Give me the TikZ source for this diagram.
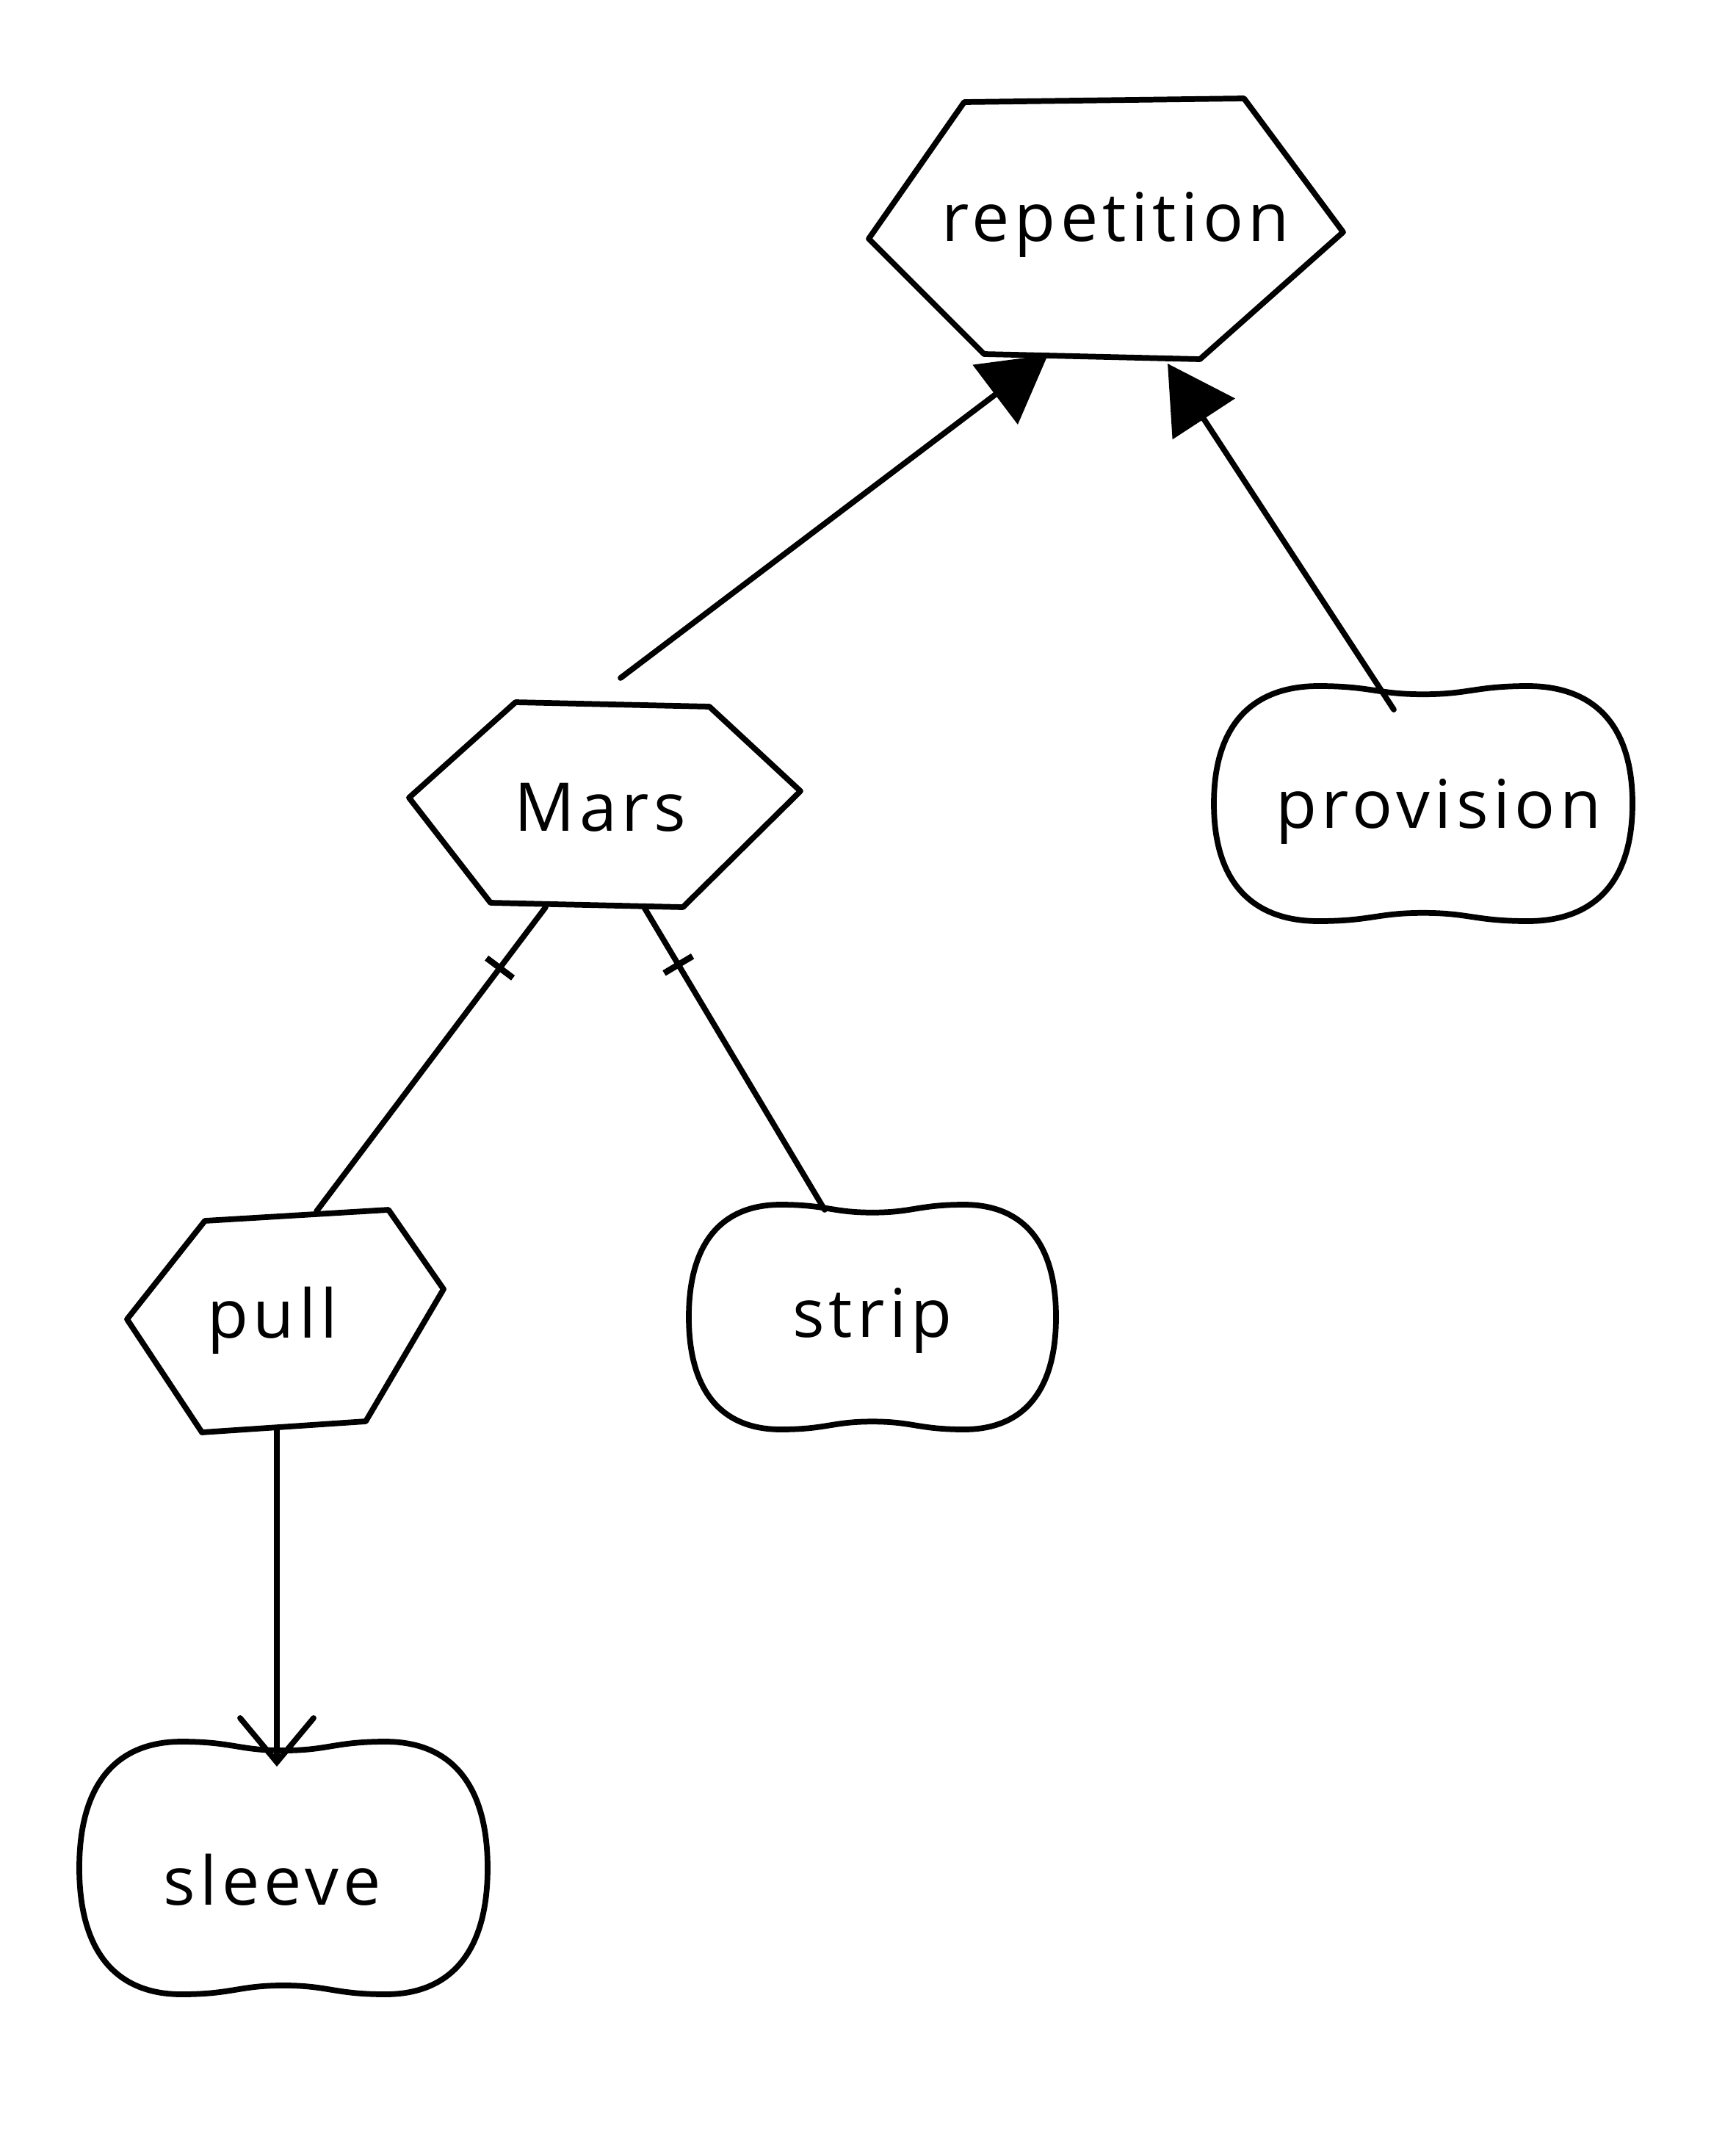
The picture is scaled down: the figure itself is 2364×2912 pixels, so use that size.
\documentclass[tikz,border=0pt]{standalone}
\usepackage{fontspec}
\setmainfont{Open Sans}[LetterSpace=7]
\usetikzlibrary{arrows.meta}
\newcommand\myblob[4]{%
  \begin{scope}[shift={(#1,#2)}, xscale=#3, yscale=#4]
    \draw[shapeline] (-1,0)
      .. controls (-1,-0.7) and (-0.8,-1) .. (-0.5,-1)
      .. controls (-0.25,-1) and (-0.22,-0.93) .. (0,-0.93)
      .. controls (0.22,-0.93) and (0.25,-1) .. (0.5,-1)
      .. controls (0.8,-1) and (1,-0.7) .. (1,0)
      .. controls (1,0.7) and (0.8,1) .. (0.5,1)
      .. controls (0.25,1) and (0.22,0.93) .. (0,0.93)
      .. controls (-0.22,0.93) and (-0.25,1) .. (-0.5,1)
      .. controls (-0.8,1) and (-1,0.7) .. (-1,0) -- cycle;
  \end{scope}}
\begin{document}
\begin{tikzpicture}[x=0.01cm, y=-0.01cm,
  shapeline/.style={line width=2.2pt, line join=round, line cap=round},
  conn/.style={line width=2.2pt, line cap=round},
  lbl/.style={inner sep=0pt, font=\fontsize{26}{30}\selectfont},
  crossbar/.style={draw, line width=2.4pt, minimum width=0pt, minimum height=0.45cm, inner sep=0pt, sloped},
  filltip/.style={-{Triangle[length=0.9cm, width=1.0cm]}},
  opentip/.style={-{Straight Barb[length=0.6cm, width=1.0cm, line cap=round]}}]
\useasboundingbox (0,0) rectangle (2364,2912);
\fill[white] (0,0) rectangle (2364,2912);

% hexagons
\draw[shapeline] (1313,139) -- (1694,134) -- (1829,316) -- (1634,489) -- (1340,482) -- (1183,325) -- cycle;
\draw[shapeline] (702,956) -- (966,962) -- (1090,1077) -- (930,1235) -- (668,1229) -- (557,1086) -- cycle;
\draw[shapeline] (279,1662) -- (529,1647) -- (604,1755) -- (498,1935) -- (275,1950) -- (173,1796) -- cycle;

% blobs
\myblob{1938}{1094}{285}{160}
\myblob{1188}{1793}{250}{153}
\myblob{386}{2543}{278}{172}

% labels
\node[lbl] (rep) at (1519,306) {repetition};
\node[lbl] (mars) at (817,1099) {Mars};
\node[lbl] (prov) at (1959,1105) {provision};
\node[lbl] (pull) at (371,1798) {pull};
\node[lbl] (strip) at (1188,1798) {strip};
\node[lbl] (sleeve) at (371,2559) {sleeve};

% connectors
\draw[conn, filltip] ([shift={(28,-176)}]mars.center) -- ([shift={(-92,177)}]rep.center);
\draw[conn, filltip] ([shift={(-61,-139)}]prov.center) -- ([shift={(71,189)}]rep.center);
\draw[conn] ([shift={(-74,136)}]mars.center) -- node[crossbar, pos=0.2] {} ([shift={(60,-149)}]pull.center);
\draw[conn] ([shift={(60,136)}]mars.center) -- node[crossbar, pos=0.19] {} ([shift={(-65,-151)}]strip.center);
\draw[conn, opentip] ([shift={(6,148)}]pull.center) -- ([shift={(6,-154)}]sleeve.center);
\end{tikzpicture}
\end{document}
